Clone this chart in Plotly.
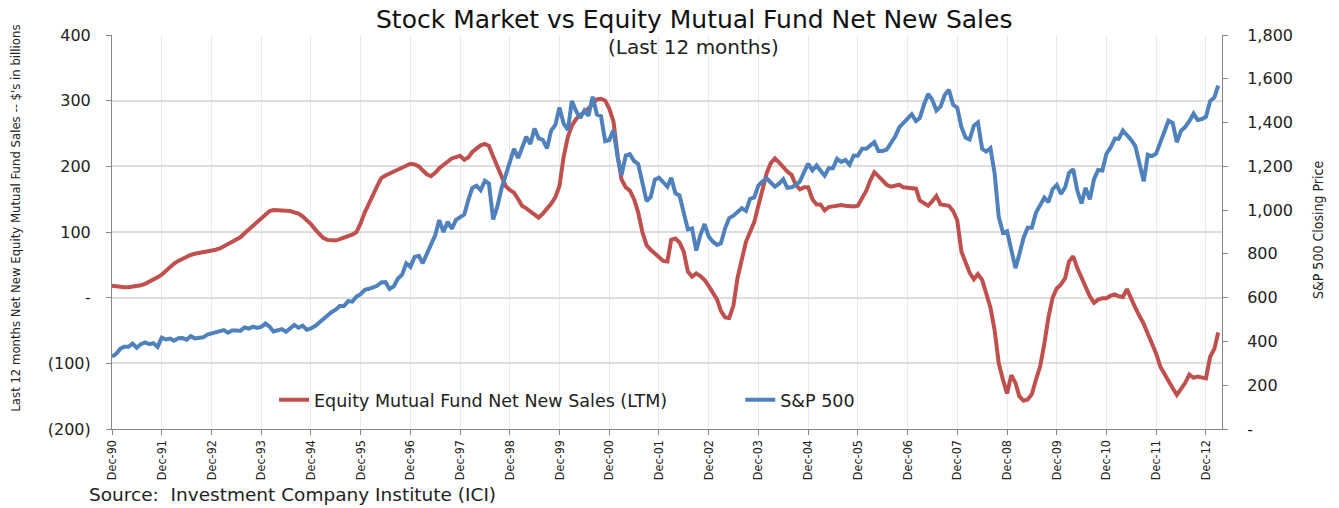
import pandas as pd
import plotly.graph_objects as go

# Monthly series, Dec-1990 .. Mar-2013
start_month = "1990-12-01"

# Equity mutual fund net new sales, last 12 months ($ billions)
fund_sales = [
    18,
    17, 16.5, 16, 16, 16.5, 17, 19, 21, 24, 27, 31, 35,            # 1991
    41, 46, 52, 56, 59, 63, 65, 67, 68, 68.5, 69.5, 71,            # 1992
    73, 75, 78, 81, 84, 88, 92, 98, 104, 110, 115, 120,            # 1993
    126, 132, 133.5, 133.5, 133, 133, 132, 130, 128, 124, 118, 112,  # 1994
    104, 96, 91, 88, 87, 87, 89, 91, 93, 96, 100, 113,             # 1995
    130, 142, 156, 170, 182, 186, 189, 192, 196, 199, 202, 204,    # 1996
    203, 200, 194, 188, 185, 190, 197, 202, 208, 212, 214, 216,    # 1997
    210, 214, 222, 228, 232, 234, 231, 215, 200, 185, 170, 164,    # 1998
    160, 150, 140, 136, 131, 127, 122, 128, 135, 143, 153, 170,    # 1999
    215, 245, 262, 272, 278, 282, 288, 296, 302, 303, 300, 288,    # 2000
    268, 215, 180, 168, 163, 150, 130, 100, 80, 73, 67, 60,        # 2001
    56, 55, 88, 90, 84, 70, 40, 32, 37, 33, 27, 18,                # 2002
    8, -3, -20, -30, -31, -12, 30, 60, 85, 100, 115, 140,          # 2003
    165, 190, 205, 212, 206, 198, 192, 187, 172, 165, 168, 168,    # 2004
    150, 142, 142, 133, 138, 139, 140, 141, 140, 139, 139, 140,    # 2005
    152, 163, 178, 191, 185, 178, 172, 169, 170, 172, 168, 167,    # 2006
    167, 166, 148, 143, 140, 147, 155, 142, 141, 140, 132, 118,    # 2007
    70, 55, 38, 28, 36, 27, 5, -15, -50, -100, -125, -146,         # 2008
    -118, -130, -150, -157, -155, -147, -125, -105, -70, -30, 0, 14,  # 2009
    20, 30, 55, 63, 45, 30, 15, 2, -8, -3, -1, -1,                 # 2010
    3, 5, 2, 1, 13, -3, -15, -28, -40, -55, -70, -85,              # 2011
    -105, -117, -128, -138, -148, -140, -130, -117, -122, -120, -121, -123,  # 2012
    -90, -78, -53,                                                 # 2013
]

# S&P 500 month-end close
sp500 = [
    330.22,
    343.93, 367.07, 375.22, 375.34, 389.83, 371.16, 387.81, 395.43, 387.86, 392.46, 375.22, 417.09,
    408.79, 412.70, 403.69, 414.95, 415.35, 408.14, 424.21, 414.03, 417.80, 418.68, 431.35, 435.71,
    438.78, 443.38, 451.67, 440.19, 450.19, 450.53, 448.13, 463.56, 458.93, 467.83, 461.79, 466.45,
    481.61, 467.14, 445.77, 450.91, 456.50, 444.27, 458.26, 475.49, 462.69, 472.35, 453.69, 459.27,
    470.42, 487.39, 500.71, 514.71, 533.40, 544.75, 562.06, 561.88, 584.41, 581.50, 605.37, 615.93,
    636.02, 640.43, 645.50, 654.17, 669.12, 670.63, 639.95, 651.99, 687.31, 705.27, 757.02, 740.74,
    786.16, 790.82, 757.12, 801.34, 848.28, 885.14, 954.29, 899.47, 947.28, 914.62, 955.40, 970.43,
    980.28, 1049.34, 1101.75, 1111.75, 1090.82, 1133.84, 1120.67, 957.28, 1017.01, 1098.67, 1163.63, 1229.23,
    1279.64, 1238.33, 1286.37, 1335.18, 1301.84, 1372.71, 1328.72, 1320.41, 1282.71, 1362.93, 1388.91, 1469.25,
    1394.46, 1366.42, 1498.58, 1452.43, 1420.60, 1454.60, 1430.83, 1517.68, 1436.51, 1429.40, 1314.95, 1320.28,
    1366.01, 1239.94, 1160.33, 1249.46, 1255.82, 1224.42, 1211.23, 1133.58, 1040.94, 1059.78, 1139.45, 1148.08,
    1130.20, 1106.73, 1147.39, 1076.92, 1067.14, 989.82, 911.62, 916.07, 815.28, 885.76, 936.31, 879.82,
    855.70, 841.15, 848.18, 916.92, 963.59, 974.50, 990.31, 1008.01, 995.97, 1050.71, 1058.20, 1111.92,
    1131.13, 1144.94, 1126.21, 1107.30, 1120.68, 1140.84, 1101.72, 1104.24, 1114.58, 1130.20, 1173.82, 1211.92,
    1181.27, 1203.60, 1180.59, 1156.85, 1191.50, 1191.33, 1234.18, 1220.33, 1228.81, 1207.01, 1249.48, 1248.29,
    1280.08, 1280.66, 1294.83, 1310.61, 1270.09, 1270.20, 1276.66, 1303.82, 1335.85, 1377.94, 1400.63, 1418.30,
    1438.24, 1406.82, 1420.86, 1482.37, 1530.62, 1503.35, 1455.27, 1473.99, 1526.75, 1549.38, 1481.14, 1468.36,
    1378.55, 1330.63, 1322.70, 1385.59, 1400.38, 1280.00, 1267.38, 1282.83, 1166.36, 968.75, 896.24, 903.25,
    825.88, 735.09, 797.87, 872.81, 919.14, 919.32, 987.48, 1020.62, 1057.08, 1036.19, 1095.63, 1115.10,
    1073.87, 1104.49, 1169.43, 1186.69, 1089.41, 1030.71, 1101.60, 1049.33, 1141.20, 1183.26, 1180.55, 1257.64,
    1286.12, 1327.22, 1325.83, 1363.61, 1345.20, 1320.64, 1292.28, 1218.89, 1131.42, 1253.30, 1246.96, 1257.60,
    1312.41, 1365.68, 1408.47, 1397.91, 1310.33, 1362.16, 1379.32, 1406.58, 1440.67, 1412.16, 1416.18, 1426.19,
    1498.11, 1514.68, 1569.19,
]

left_tickvals = [-200, -100, 0, 100, 200, 300, 400]
left_ticktext = ["(200)", "(100)", "-", "100", "200", "300", "400"]
right_tickvals = [0, 200, 400, 600, 800, 1000, 1200, 1400, 1600, 1800]
right_ticktext = ["-", "200", "400", "600", "800", "1,000", "1,200", "1,400", "1,600", "1,800"]

series_names = ["Equity Mutual Fund Net New Sales (LTM)", "S&P 500"]
title_text = "Stock Market vs Equity Mutual Fund Net New Sales"
subtitle_text = "(Last 12 months)"
left_title = "Last 12 months Net New Equity Mutual Fund Sales -- $'s in billions"
right_title = "S&P 500 Closing Price"
source_text = "Source:  Investment Company Institute (ICI)"

dates = pd.date_range(start_month, periods=len(sp500), freq="MS")

RED = "#C0504D"
BLUE = "#4F81BD"
MAIN_FONT = "DejaVu Sans, Verdana, sans-serif"
NARROW_FONT = "Liberation Sans Narrow, DejaVu Sans Condensed, Arial Narrow, sans-serif"

fig = go.Figure()
fig.add_trace(go.Scatter(
    x=dates, y=fund_sales, name=series_names[0], mode="lines",
    line=dict(color=RED, width=4), yaxis="y", legend="legend",
))
fig.add_trace(go.Scatter(
    x=dates, y=sp500, name=series_names[1], mode="lines",
    line=dict(color=BLUE, width=4), yaxis="y2", legend="legend2",
))

fig.update_layout(
    width=1339, height=508,
    margin=dict(l=112, r=117, t=35, b=79),
    paper_bgcolor="white", plot_bgcolor="white",
    font=dict(family=MAIN_FONT, color="#222222"),
    xaxis=dict(
        type="date",
        range=["1990-12-01", "2013-03-29"],
        tick0="1990-12-01", dtick="M12", tickformat="%b-%y",
        tickangle=-90,
        tickfont=dict(family=NARROW_FONT, size=12.5, color="#222222"),
        ticks="outside", ticklen=5, tickcolor="#868686",
        showline=True, linecolor="#868686", linewidth=1,
        showgrid=True, gridcolor="#ebebeb", gridwidth=1,
        zeroline=False,
    ),
    yaxis=dict(
        range=[-200, 400],
        tickvals=left_tickvals, ticktext=left_ticktext,
        tickfont=dict(size=16, color="#222222"),
        ticks="outside", ticklen=5, tickcolor="#868686",
        ticklabelstandoff=12,
        showline=True, linecolor="#868686", linewidth=1,
        showgrid=True, gridcolor="#dedede", gridwidth=1.5,
        zeroline=False,
    ),
    yaxis2=dict(
        range=[0, 1800], overlaying="y", side="right",
        tickvals=right_tickvals, ticktext=right_ticktext,
        tickfont=dict(size=16, color="#222222"),
        ticks="outside", ticklen=5, tickcolor="#868686",
        ticklabelstandoff=16,
        showline=True, linecolor="#868686", linewidth=1,
        showgrid=False, zeroline=False,
    ),
    legend=dict(
        x=0.146, y=0.074, xanchor="left", yanchor="middle",
        bgcolor="rgba(0,0,0,0)", font=dict(size=17.5, color="#222222"),
    ),
    legend2=dict(
        x=0.566, y=0.074, xanchor="left", yanchor="middle",
        bgcolor="rgba(0,0,0,0)", font=dict(size=17.5, color="#222222"),
    ),
    showlegend=True,
    annotations=[
        dict(text=title_text, xref="paper", yref="paper", x=0.524, y=1.04,
             xanchor="center", yanchor="middle", showarrow=False,
             font=dict(size=25, color="#111111")),
        dict(text=subtitle_text, xref="paper", yref="paper", x=0.524, y=0.97,
             xanchor="center", yanchor="middle", showarrow=False,
             font=dict(size=20, color="#222222")),
        dict(text=left_title, xref="paper", yref="paper", x=-0.087, y=0.535,
             xanchor="center", yanchor="middle", textangle=-90, showarrow=False,
             font=dict(family=NARROW_FONT, size=13, color="#222222")),
        dict(text=right_title, xref="paper", yref="paper", x=1.0865, y=0.505,
             xanchor="center", yanchor="middle", textangle=-90, showarrow=False,
             font=dict(family=NARROW_FONT, size=14, color="#222222")),
        dict(text=source_text, xref="paper", yref="paper", x=-0.0225, y=-0.1675,
             xanchor="left", yanchor="middle", showarrow=False,
             font=dict(size=18.5, color="#222222")),
    ],
)

# Remove the browser's default page margin so the figure fills the window exactly.
fig.write_html(
    "out.html",
    config={"displayModeBar": False},
    post_script="document.body.style.margin='0';",
)
